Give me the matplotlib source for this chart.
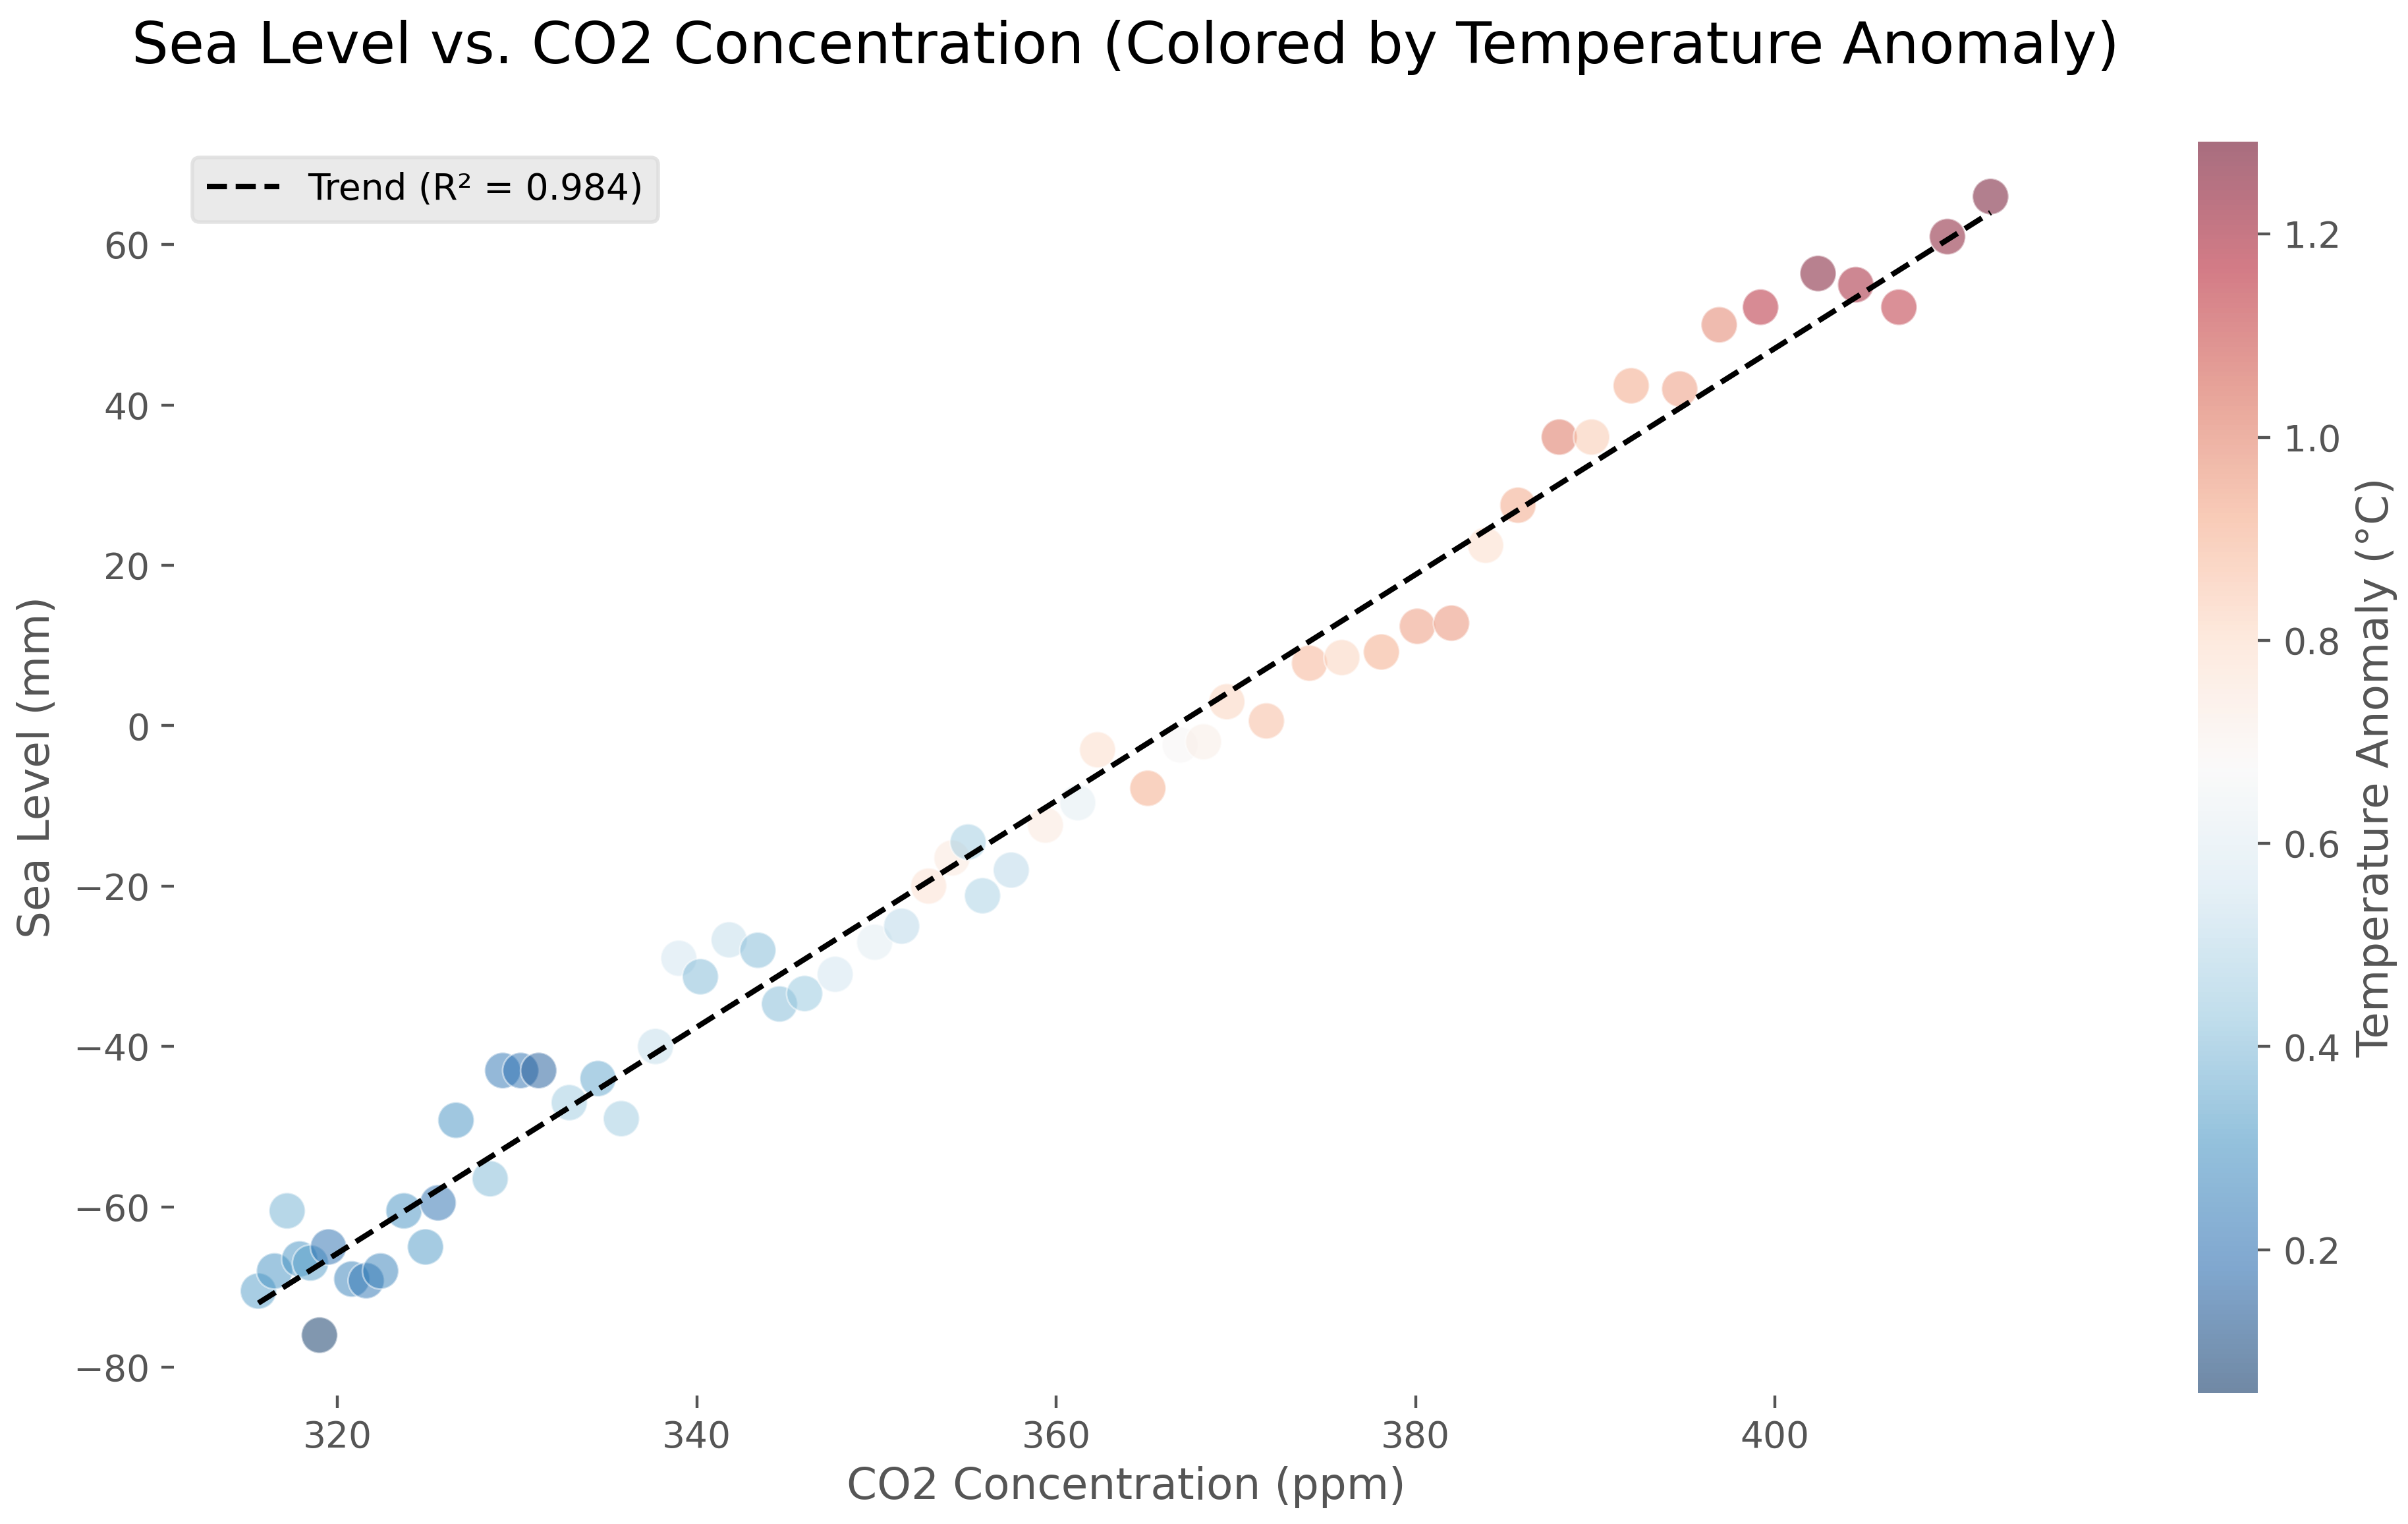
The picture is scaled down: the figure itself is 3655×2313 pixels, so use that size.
import matplotlib
matplotlib.use("Agg")
import matplotlib.pyplot as plt
import numpy as np

co2 = [315.6,316.5,317.2,317.9,318.5,319.0,319.5,320.8,321.6,322.4,323.7,324.9,325.6,326.6,328.5,329.2,330.2,331.2,332.9,334.5,335.8,337.7,339.0,340.2,341.8,343.4,344.6,346.0,347.7,349.9,351.4,352.9,354.2,355.1,355.9,357.5,359.4,361.2,362.3,365.1,366.9,368.2,369.5,371.7,374.1,375.9,378.1,380.1,382.0,383.9,385.7,388.0,389.8,392.0,394.7,396.9,399.2,402.4,404.5,406.9,409.6,412.0]
sea = [-70.5,-68,-60.5,-66.5,-67,-76,-65,-69,-69.2,-68,-60.5,-65,-59.5,-49.2,-56.5,-43,-43,-43,-47,-44,-49,-40,-29,-31.3,-26.7,-28,-34.7,-33.4,-31,-27,-25,-20,-16.5,-14.5,-21.2,-18,-12.4,-9.6,-3,-7.8,-2.4,-2,3,0.6,7.8,8.5,9.2,12.4,12.8,22.5,27.5,36,36,42.4,42,50,52.2,56.4,55,52.2,61,66]
temp = [0.33,0.30,0.38,0.30,0.33,0.059,0.20,0.25,0.22,0.25,0.30,0.32,0.20,0.30,0.40,0.22,0.20,0.15,0.45,0.35,0.45,0.52,0.55,0.40,0.52,0.40,0.40,0.43,0.55,0.60,0.50,0.78,0.75,0.45,0.47,0.50,0.75,0.60,0.80,0.92,0.68,0.72,0.82,0.88,0.90,0.82,0.92,0.95,0.97,0.80,0.93,1.03,0.85,0.93,0.95,1.00,1.17,1.27,1.20,1.15,1.25,1.291]
trend_x = [315.6, 412.0]
trend_y = [-72.0, 64.0]
r2 = 0.984

W, H = 3655, 2313
DPI = 396
fig = plt.figure(figsize=(W/DPI, H/DPI), dpi=DPI)
ax = fig.add_axes([264/W, 1-2118/H, (3155-264)/W, (2118-211)/H])
sc = ax.scatter(co2, sea, c=temp, cmap="RdBu_r", s=100, alpha=0.5, edgecolors="white", linewidths=0.5, zorder=2)
ax.plot(trend_x, trend_y, "k--", lw=1.5, label=f"Trend (R² = {r2})", zorder=3)
ax.set_xlim(310.9, 416.9)
ax.set_ylim(-83.53, 73.17)
ax.set_xticks([320,340,360,380,400])
ax.set_yticks([-80,-60,-40,-20,0,20,40,60])
for s in ax.spines.values():
    s.set_visible(False)
ax.tick_params(labelsize=10, colors="#555555", length=3.5, width=0.8, pad=3.2)
ax.set_xlabel("CO2 Concentration (ppm)", fontsize=12, color="#555555", labelpad=3.0)
ax.set_ylabel("Sea Level (mm)", fontsize=12, color="#555555")
fig.text(1708/W, 1-72/H, "Sea Level vs. CO2 Concentration (Colored by Temperature Anomaly)", fontsize=16.03, ha="center", va="center", color="black")
ax.legend(loc="upper left", fontsize=10, facecolor="#E5E5E5", edgecolor="#DDDDDD", framealpha=0.8)
cax = fig.add_axes([3336/W, 1-2114/H, (3427-3336)/W, (2114-215)/H])
cb = fig.colorbar(sc, cax=cax)
cb.solids.set_alpha(0.57)
cb.outline.set_visible(False)
cb.set_ticks([0.2,0.4,0.6,0.8,1.0,1.2])
cb.ax.tick_params(labelsize=10, colors="#555555", length=3.5, width=0.8)
cb.set_label("Temperature Anomaly (°C)", fontsize=12, color="#555555")
fig.savefig("out.png", dpi=DPI)
